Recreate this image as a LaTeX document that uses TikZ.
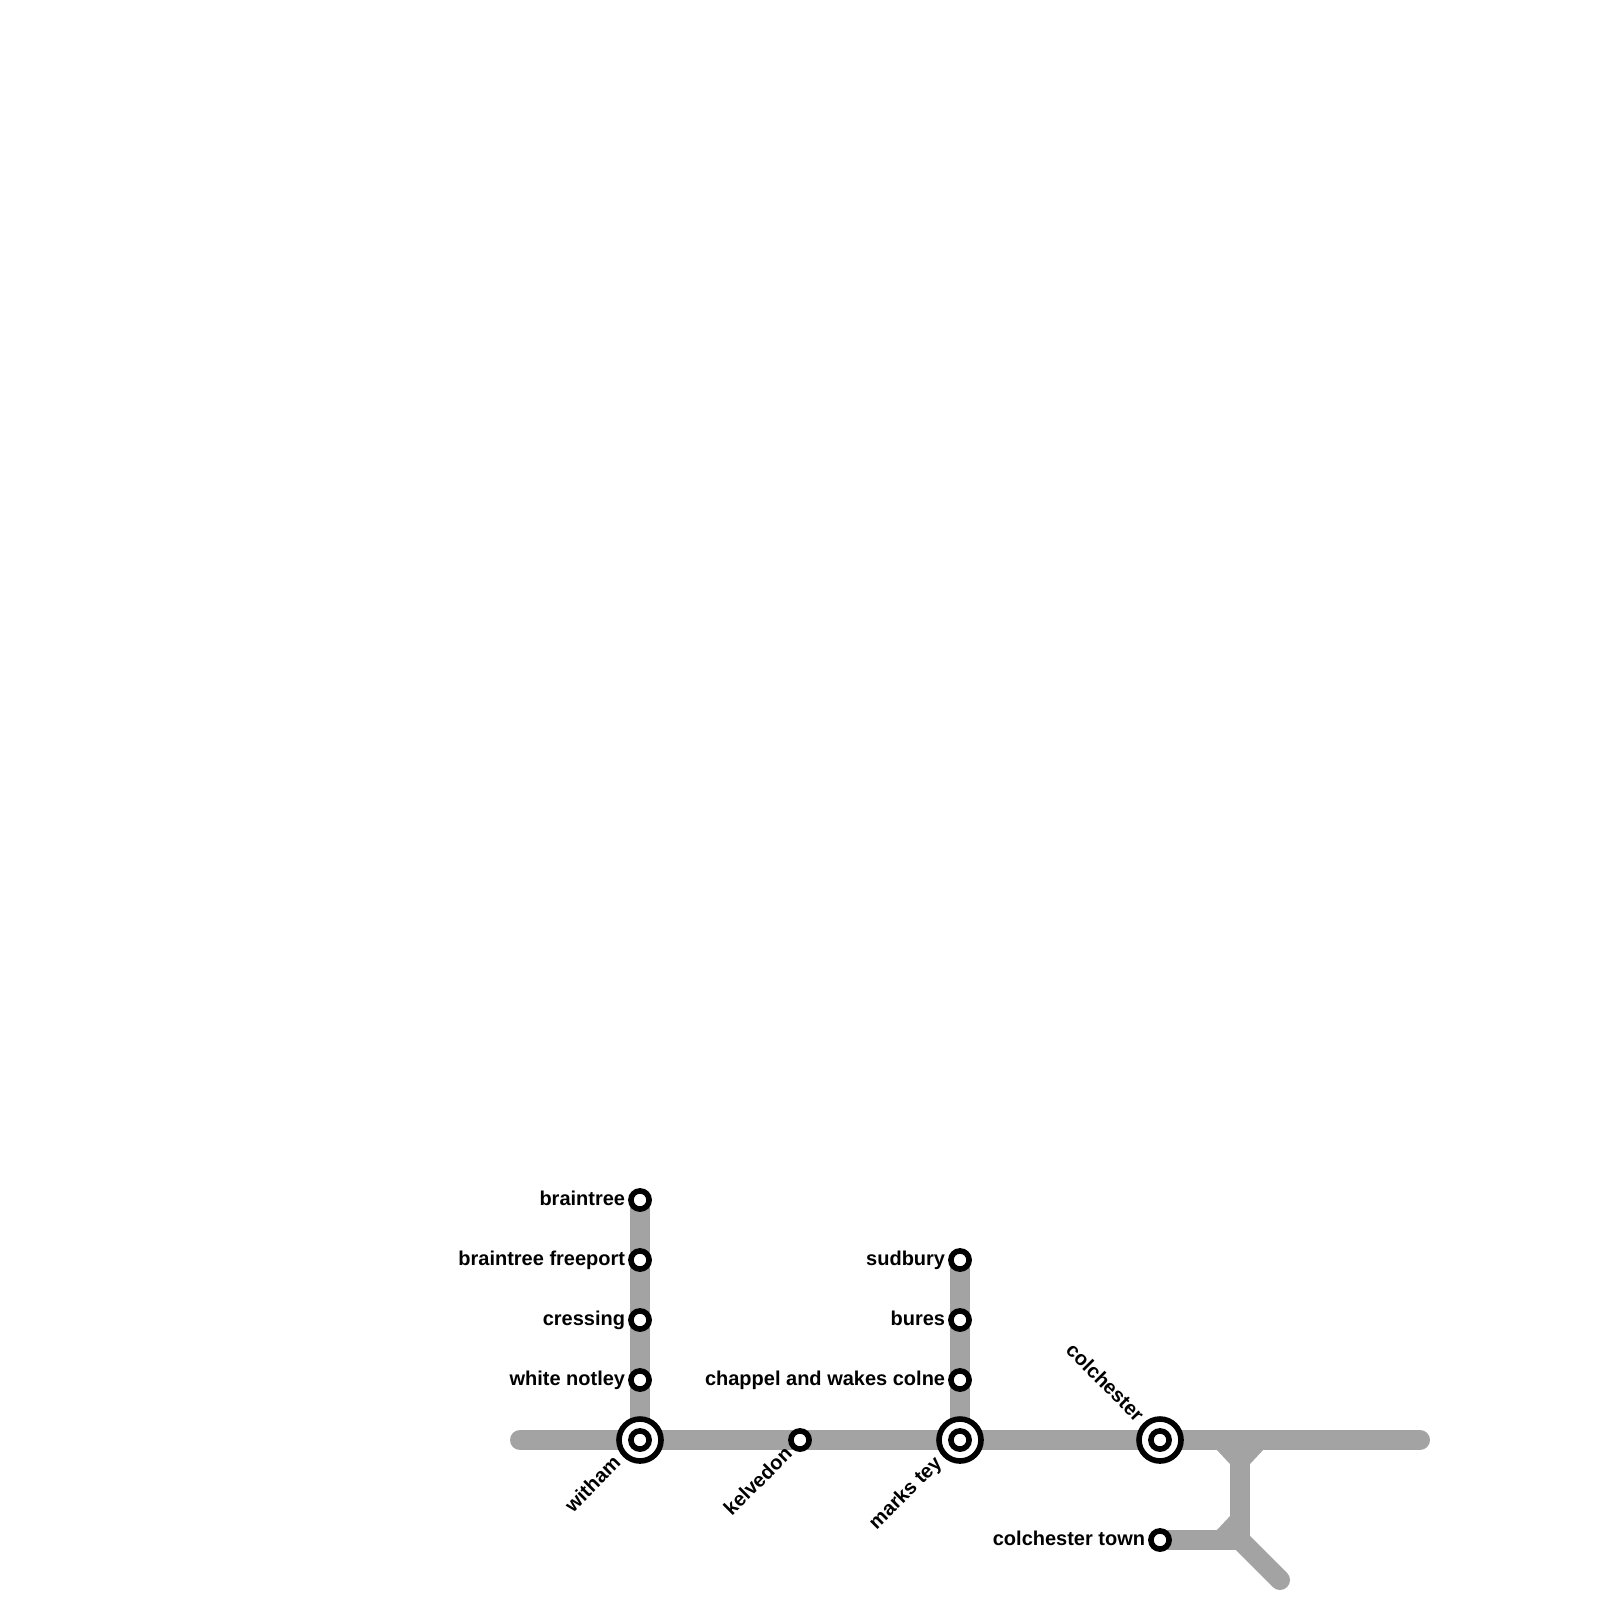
\documentclass[tikz,border=0pt]{standalone}
\usepackage{fontspec}
\setmainfont{Liberation Sans}
\usetikzlibrary{backgrounds}
\definecolor{railgrey}{HTML}{A3A3A3}
\tikzset{
  x=0.5pt,y=-0.5pt,
  track/.style={draw=railgrey,line width=10pt},
  trackfill/.style={fill=railgrey,draw=none},
  halt/.style={circle,draw=black,fill=white,line width=2.8pt,minimum size=9.1pt,inner sep=0pt,outer sep=0pt},
  hub/.style={circle,draw=black,fill=white,line width=2.8pt,minimum size=21pt,inner sep=0pt,outer sep=0pt},
  hubcore/.style={circle,draw=black,fill=white,line width=2.8pt,minimum size=9.1pt,inner sep=0pt,outer sep=0pt},
  lab/.style={font=\bfseries\fontsize{10}{12}\selectfont,text=black,inner sep=0pt,anchor=base east}
}
\begin{document}
\begin{tikzpicture}
\useasboundingbox (0,0) rectangle (1600,1600);
% stations
\node[halt] (braintree) at (640,1200) {};
\node[halt] (freeport) at (640,1260) {};
\node[halt] (cressing) at (640,1320) {};
\node[halt] (notley) at (640,1380) {};
\node[hub] (witham) at (640,1440) {};
\node[hubcore] (withamc) at (640,1440) {};
\node[halt] (kelvedon) at (800,1440) {};
\node[halt] (sudbury) at (960,1260) {};
\node[halt] (bures) at (960,1320) {};
\node[halt] (chappel) at (960,1380) {};
\node[hub] (marks) at (960,1440) {};
\node[hubcore] (marksc) at (960,1440) {};
\node[hub] (colchester) at (1160,1440) {};
\node[hubcore] (colchesterc) at (1160,1440) {};
\node[halt] (town) at (1160,1540) {};
% free ends and junctions
\coordinate (west) at (520,1440);
\coordinate (east) at (1420,1440);
\coordinate (jtop) at (1240,1440);
\coordinate (jbot) at (1240,1540);
\coordinate (south) at (1280,1580);
\begin{scope}[on background layer]
\fill[white] (0,0) rectangle (1600,1600);
\draw[track,line cap=round] (west) -- (witham.center);
\draw[track] (witham.center) -- (kelvedon.center) -- (marks.center) -- (colchester.center) -- (jtop);
\draw[track,line cap=round] (jtop) -- (east);
\draw[track] (braintree.center) -- (freeport.center) -- (cressing.center) -- (notley.center) -- (witham.center);
\draw[track] (sudbury.center) -- (bures.center) -- (chappel.center) -- (marks.center);
\draw[track] (jtop) -- (jbot);
\draw[track] (town.center) -- (jbot);
\draw[track,line cap=round] (jbot) -- (south);
\fill[trackfill] (1216,1449) -- (1264,1449) -- (1250,1464) -- (1230,1464) -- cycle;
\fill[trackfill] (1231,1515) -- (1216,1531) -- (1231,1531) -- cycle;
\fill[trackfill] (1249,1535) -- (1249,1541) -- (1242,1541) -- cycle;
\end{scope}
% labels
\node[lab] (lbraintree) at (625.5,1205) {braintree};
\node[lab] (lfreeport) at (625.5,1265) {braintree freeport};
\node[lab] (lcressing) at (625.5,1325) {cressing};
\node[lab] (lnotley) at (625.5,1385) {white notley};
\node[lab] (lsudbury) at (945.5,1265) {sudbury};
\node[lab] (lbures) at (945.5,1325) {bures};
\node[lab] (lchappel) at (945.5,1385) {chappel and wakes colne};
\node[lab] (ltown) at (1145.5,1545) {colchester town};
\node[lab,rotate=45] (lwitham) at (622,1464) {witham};
\node[lab,rotate=45] (lkelvedon) at (793.5,1455) {kelvedon};
\node[lab,rotate=45] (lmarks) at (943,1464) {marks tey};
\node[lab,rotate=-45] (lcolchester) at (1136,1423) {colchester};
\end{tikzpicture}
\end{document}
